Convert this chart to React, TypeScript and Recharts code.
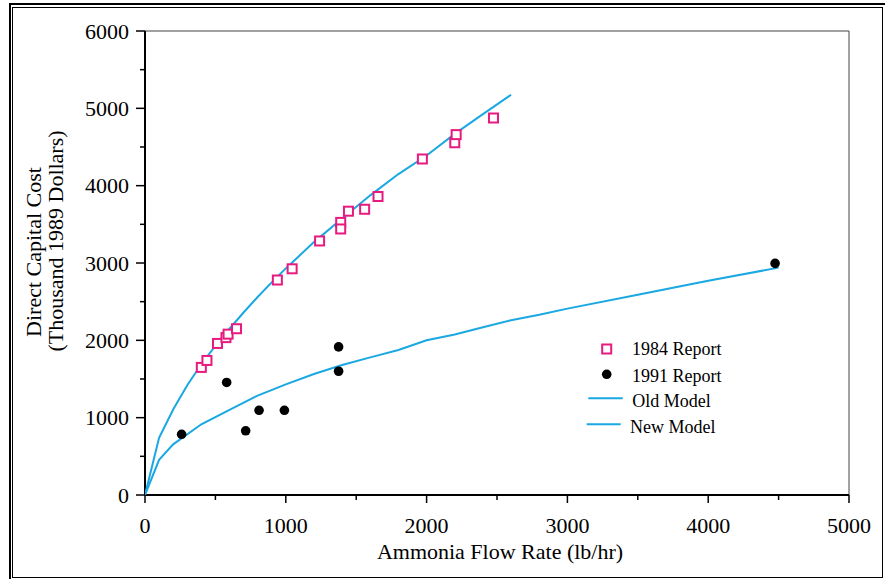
import { ComposedChart, Scatter, XAxis, YAxis, ReferenceLine, Legend } from "recharts"

// 1984 Report (pink squares)
const flow1984 = [400, 440, 515, 575, 590, 650, 940, 1045, 1240, 1390, 1390, 1445, 1560, 1655, 1970, 2200, 2210, 2475]
const cost1984 = [1650, 1740, 1960, 2035, 2080, 2150, 2780, 2925, 3285, 3525, 3440, 3670, 3695, 3860, 4345, 4555, 4660, 4875]

// 1991 Report (black dots)
const flow1991 = [260, 580, 715, 810, 990, 1375, 1375, 4475]
const cost1991 = [785, 1455, 830, 1095, 1095, 1915, 1600, 2995]

// Old Model curve
const oldModelFlow = [0, 100, 200, 300, 400, 500, 600, 700, 800, 900, 1000, 1200, 1400, 1600, 1800, 2000, 2200, 2400, 2600]
const oldModelCost = [0, 740, 1105, 1420, 1690, 1930, 2150, 2360, 2560, 2750, 2930, 3270, 3575, 3875, 4150, 4390, 4670, 4925, 5175]

// New Model curve
const newModelFlow = [0, 100, 200, 400, 600, 800, 1000, 1200, 1400, 1600, 1800, 2000, 2200, 2400, 2600, 2800, 3000, 3500, 4000, 4500]
const newModelCost = [0, 455, 655, 915, 1100, 1285, 1430, 1565, 1680, 1780, 1875, 2000, 2075, 2170, 2260, 2330, 2410, 2590, 2770, 2940]

const xTicks = [0, 500, 1000, 1500, 2000, 2500, 3000, 3500, 4000, 4500, 5000]
const yTicks = [0, 500, 1000, 1500, 2000, 2500, 3000, 3500, 4000, 4500, 5000, 5500, 6000]

const zip = (xs: number[], ys: number[]) => xs.map((x, i) => ({ x, y: ys[i] }))

const report1984 = zip(flow1984, cost1984)
const report1991 = zip(flow1991, cost1991)
const oldModel = zip(oldModelFlow, oldModelCost)
const newModel = zip(newModelFlow, newModelCost)

const FONT = "'Liberation Serif', 'Times New Roman', serif"
const PINK = "#e8197f"
const BLUE = "#1aa8e2"
const serif = { fontFamily: FONT, fontSize: 22, fill: "#000" }

function YTick({ x, y, payload }: any) {
  const major = payload.value % 1000 === 0
  return (
    <g>
      <line x1={x - (major ? 9 : 5)} x2={x} y1={y} y2={y} stroke="#000" strokeWidth={1.5} />
      {major && (
        <text x={x - 16} y={y} dy="0.35em" textAnchor="end" style={serif}>
          {payload.value}
        </text>
      )}
    </g>
  )
}

function XTick({ x, y, payload }: any) {
  const major = payload.value % 1000 === 0
  return (
    <g>
      <line x1={x} x2={x} y1={y} y2={y + (major ? 8 : 5)} stroke="#000" strokeWidth={1.5} />
      {major && (
        <text x={x} y={y + 30} dy="0.35em" textAnchor="middle" style={serif}>
          {payload.value}
        </text>
      )}
    </g>
  )
}

const Square = ({ cx, cy }: any) => (
  <rect x={cx - 4.5} y={cy - 4.5} width={9} height={9} fill="#fff" stroke={PINK} strokeWidth={2} />
)
const Dot = ({ cx, cy }: any) => <circle cx={cx} cy={cy} r={4.8} fill="#000" />
const NoMark = () => <g />

function LegendBox() {
  const t = { fontFamily: FONT, fontSize: 18, fill: "#000" }
  return (
    <svg width={160} height={100}>
      <rect x={22.2} y={8.5} width={9} height={9} fill="#fff" stroke={PINK} strokeWidth={2} />
      <text x={52} y={13} dy="0.35em" style={t}>1984 Report</text>
      <circle cx={26.7} cy={38.3} r={4.8} fill="#000" />
      <text x={52} y={40} dy="0.35em" style={t}>1991 Report</text>
      <line x1={8.3} x2={42.7} y1={62.3} y2={62.3} stroke={BLUE} strokeWidth={2} />
      <text x={52.3} y={64.7} dy="0.35em" style={t}>Old Model</text>
      <line x1={6.7} x2={40.7} y1={88.3} y2={88.3} stroke={BLUE} strokeWidth={2} />
      <text x={50} y={90.7} dy="0.35em" style={t}>New Model</text>
    </svg>
  )
}

export default function App() {
  return (
    <div style={{ position: "absolute", left: 0, top: 0, width: 885, height: 579, background: "#fff" }}>
      {/* double frame */}
      <div style={{ position: "absolute", left: 9, top: 3, width: 874, height: 575, borderTop: "2px solid #000", borderLeft: "2px solid #000" }} />
      <div style={{ position: "absolute", left: 12, top: 6.5, width: 869, height: 569, border: "1.5px solid #000" }} />

      <div style={{ position: "absolute", left: 0, top: 0 }}>
        <ComposedChart width={885} height={579} margin={{ top: 31, right: 36, bottom: 0, left: 0 }}>
          <XAxis
            type="number"
            dataKey="x"
            domain={[0, 5000]}
            ticks={xTicks}
            interval={0}
            height={84}
            tickSize={0}
            tickMargin={0}
            tickLine={false}
            tick={<XTick />}
            axisLine={{ stroke: "#000", strokeWidth: 2 }}
            allowDataOverflow
            label={{
              content: () => (
                <text x={500} y={551} dy="0.35em" textAnchor="middle" style={serif}>
                  Ammonia Flow Rate (lb/hr)
                </text>
              ),
            }}
          />
          <YAxis
            type="number"
            dataKey="y"
            domain={[0, 6000]}
            ticks={yTicks}
            interval={0}
            width={145}
            tickSize={0}
            tickMargin={0}
            tickLine={false}
            tick={<YTick />}
            axisLine={{ stroke: "#000", strokeWidth: 2 }}
            allowDataOverflow
            label={{
              content: () => (
                <g>
                  <text transform="translate(33,252) rotate(-90)" textAnchor="middle" dy="0.35em" style={serif}>
                    Direct Capital Cost
                  </text>
                  <text transform="translate(55,241) rotate(-90)" textAnchor="middle" dy="0.35em" style={serif}>
                    (Thousand 1989 Dollars)
                  </text>
                </g>
              ),
            }}
          />
          <ReferenceLine y={6000} stroke="#444" strokeWidth={1} />
          <ReferenceLine x={5000} stroke="#444" strokeWidth={1} />
          <Scatter name="Old Model" data={oldModel} line={{ stroke: BLUE, strokeWidth: 2 }} shape={<NoMark />} isAnimationActive={false} />
          <Scatter name="New Model" data={newModel} line={{ stroke: BLUE, strokeWidth: 2 }} shape={<NoMark />} isAnimationActive={false} />
          <Scatter name="1984 Report" data={report1984} shape={<Square />} isAnimationActive={false} />
          <Scatter name="1991 Report" data={report1991} shape={<Dot />} isAnimationActive={false} />
          <Legend
            layout="vertical"
            align="center"
            verticalAlign="middle"
            content={() => <LegendBox />}
            wrapperStyle={{ position: "absolute", left: 580, top: 336, width: 160, height: 100 }}
          />
        </ComposedChart>
      </div>
    </div>
  )
}
